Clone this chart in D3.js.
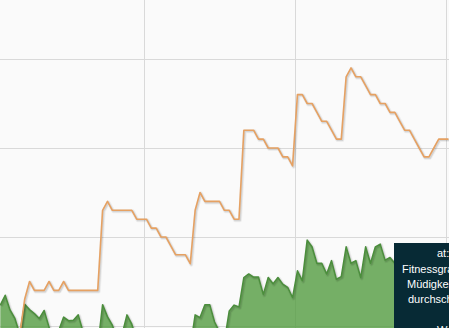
<!DOCTYPE html>
<meta charset="utf-8">
<style>

    body {
        margin: 0;
        background: #fafafa;
    }

    svg {
        display: block;
    }

    .grid line {
        stroke: #d9d9d9;
        stroke-width: 1px;
    }

    .tip text {
        font-family: "Liberation Sans", Arial, sans-serif;
        font-size: 11px;
        fill: #fff;
    }

</style>
<svg width="449" height="328"></svg>
<script src="https://d3js.org/d3.v7.min.js"></script>
<script>

    // one value per day, first entry = 1 June 2023 (plotted at noon)
    var firstDay = new Date(2023, 5, 1, 12);

    // Fitnessgrad (orange line)
    var fitness = [
        null, null, null, null, 18, 26, 30, 28, 28, 28,
        30, 28, 28, 30, 28, 28, 28, 28, 28, 28,
        28, 46, 48, 46, 46, 46, 46, 46, 44, 44,
        44, 42, 42, 40, 40, 38, 36, 36, 36, 34,
        46, 50, 48, 48, 48, 48, 46, 46, 44, 44,
        64, 64, 64, 62, 62, 60, 60, 60, 58, 58,
        56, 72, 72, 70, 70, 68, 66, 66, 64, 62,
        62, 76, 78, 76, 76, 74, 72, 72, 70, 70,
        68, 68, 66, 64, 64, 62, 60, 58, 58, 60,
        62, 62, 62
    ];

    // Belastung (green area)
    var load = [
        24.7, 26.9, 23.6, 21.7, 18.2, 24.9, 23.7, 22.8, 21.7, 23.5,
        19.8, 14.6, 19.0, 22.0, 21.2, 21.3, 22.5, 18.7, 14.6, 13.5,
        15.3, 24.8, 22.1, 20.2, 16.9, 18.1, 22.5, 20.4, 16.9, 12,
        10, 12, 14, 11, 13, 12, 10, 12, 13, 15.1,
        22.5, 21.9, 24.8, 24.8, 20.9, 18.7, 16.5, 23.4, 24.7, 24.3,
        30.9, 31.7, 31.0, 31.0, 27.1, 30.9, 29.5, 30.9, 29.4, 28.7,
        26.4, 32.4, 30.2, 39.3, 37.8, 34.1, 34.1, 31.7, 34.7, 30.5,
        31.1, 37.8, 34.1, 34.7, 30.9, 37.8, 34.1, 37.8, 38.4, 34.8,
        35.4, 34.1, 33, 31, 30, 29, 30, 28, 29, 30,
        29, 28, 29
    ];

    var monthTicks = [new Date(2023, 5, 1), new Date(2023, 6, 1), new Date(2023, 7, 1), new Date(2023, 8, 1)];
    var valueTicks = [20, 40, 60, 80];

    var tipLines = ["at: 01.09.2023", "Fitnessgrad: 62", "Müdigkeit: 64", "durchschn. Belastung: 29", "", "Wochenbelastung: 203"];

    var svg = d3.select("svg"),
        width = +svg.attr("width"),
        height = +svg.attr("height");

    var days = fitness.map(function(d, i) { return d3.timeDay.offset(firstDay, i); });

    var x = d3.scaleTime()
        .domain([new Date(2023, 6, 1), new Date(2023, 8, 1)])
        .range([144, 446]);

    var y = d3.scaleLinear()
        .domain([0, 100])
        .range([415, -30]);

    // grid
    svg.append("g")
        .attr("class", "grid")
        .call(d3.axisLeft(y).tickValues(valueTicks).tickSize(-width).tickFormat(""))
        .call(function(g) { g.select(".domain").remove(); });

    svg.append("g")
        .attr("class", "grid")
        .call(d3.axisTop(x).tickValues(monthTicks).tickSize(-height).tickFormat(""))
        .call(function(g) { g.select(".domain").remove(); });

    function addShadow(d) {
        for (var i = 1; i <= 3; i++) {
            svg.append("path")
                .attr("d", d)
                .attr("fill", "none")
                .attr("stroke", "#000")
                .attr("stroke-opacity", 0.05 * i)
                .attr("stroke-width", 6 - 2 * i)
                .attr("stroke-linejoin", "round")
                .attr("transform", "translate(1,1)");
        }
    }

    // load area
    var area = d3.area()
        .x(function(d, i) { return x(days[i]); })
        .y0(y(0))
        .y1(function(d) { return y(d); });

    var loadLine = d3.line()
        .x(function(d, i) { return x(days[i]); })
        .y(function(d) { return y(d); });

    svg.append("path")
        .attr("d", area(load))
        .attr("fill", "#4f9a3c")
        .attr("fill-opacity", 0.78);

    addShadow(loadLine(load));

    svg.append("path")
        .attr("d", loadLine(load))
        .attr("fill", "none")
        .attr("stroke", "#4b8e3c")
        .attr("stroke-width", 1.5)
        .attr("stroke-linejoin", "round");

    // fitness line
    var fitLine = d3.line()
        .defined(function(d) { return d != null; })
        .x(function(d, i) { return x(days[i]); })
        .y(function(d) { return y(d); });

    addShadow(fitLine(fitness));

    svg.append("path")
        .attr("d", fitLine(fitness))
        .attr("fill", "none")
        .attr("stroke", "#e6a162")
        .attr("stroke-width", 1.6)
        .attr("stroke-linejoin", "round");

    // tooltip (cut off by the window)
    var tip = svg.append("g")
        .attr("class", "tip");

    tip.append("rect")
        .attr("x", 394)
        .attr("y", 243)
        .attr("width", 160)
        .attr("height", 120)
        .attr("fill", "#072a35");

    var tipX = [437, 402, 407, 408, 437, 437];
    var tipY = [257, 273, 288, 303, 318, 334];

    tip.selectAll("text")
        .data(tipLines)
        .enter()
        .append("text")
        .attr("x", function(d, i) { return tipX[i]; })
        .attr("y", function(d, i) { return tipY[i]; })
        .text(function(d) { return d; });

</script>
